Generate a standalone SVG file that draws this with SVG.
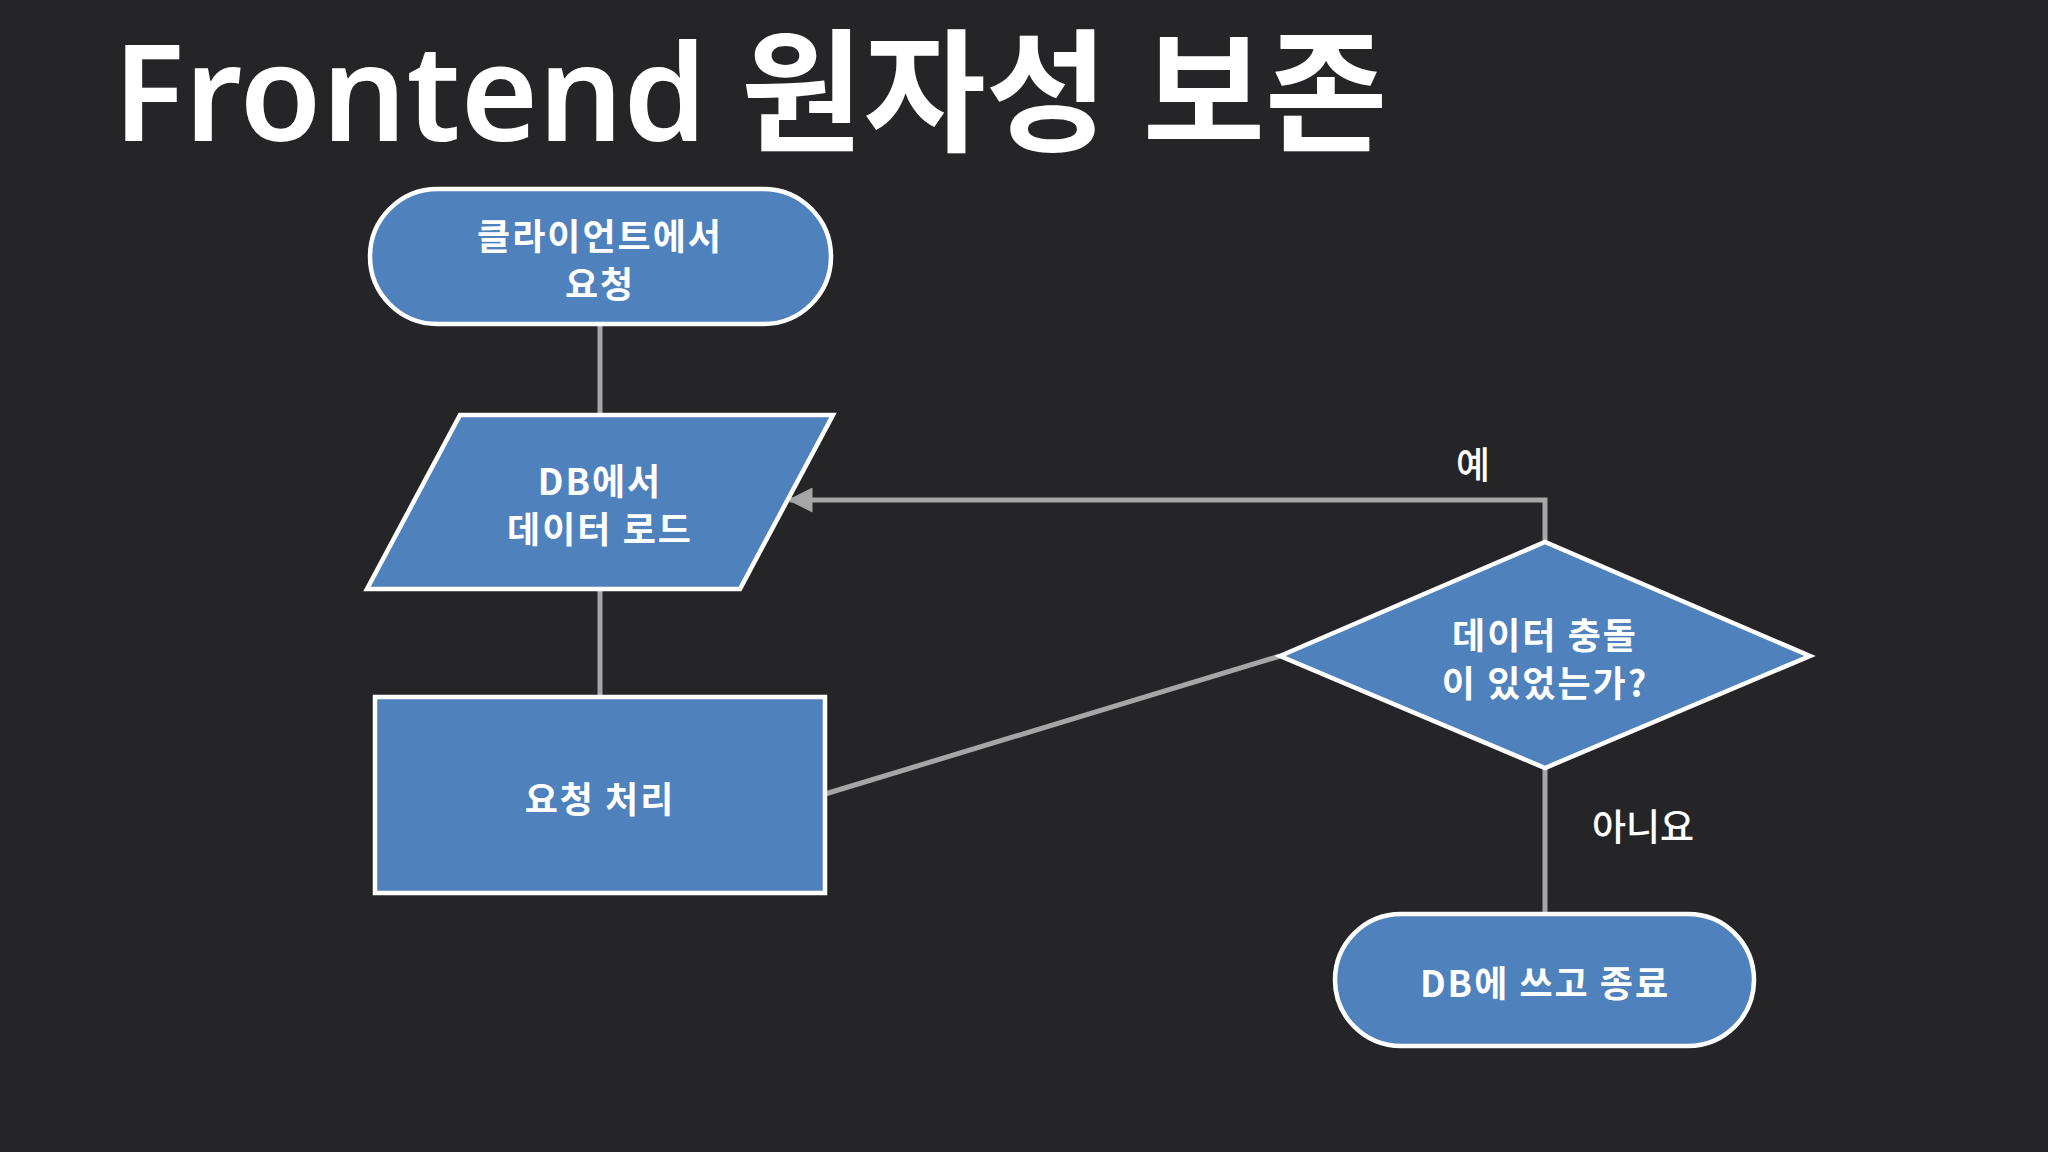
<svg xmlns="http://www.w3.org/2000/svg" width="2048" height="1152" viewBox="0 0 2048 1152">
<defs>
<marker id="ah" markerWidth="5" markerHeight="5" refX="4.5" refY="2.5" orient="auto" markerUnits="strokeWidth"><path d="M0,0 L5,2.5 L0,5 z" fill="#a6a6a6"/></marker>
<style>
.n{fill:#4f81bd;stroke:#fff;stroke-width:4.5}
.t{font-family:"Noto Sans CJK KR","Noto Sans",sans-serif;font-size:36px;font-weight:600;letter-spacing:2px;fill:#fff;text-anchor:middle;dominant-baseline:central}
.c{fill:none;stroke:#a6a6a6;stroke-width:5}
.l{font-family:"Noto Sans CJK KR","Noto Sans",sans-serif;font-size:37px;font-weight:500;fill:#fff;text-anchor:middle;dominant-baseline:central}
</style>
</defs>
<rect width="2048" height="1152" fill="#252527"/>
<text x="113" y="141" font-family="'Noto Sans','Noto Sans CJK KR',sans-serif" font-size="133" font-weight="600" fill="#fff">Frontend 원자성 보존</text>
<g id="connectors">
<path class="c" d="M600,324 V415"/>
<path class="c" d="M600,589 V697"/>
<path class="c" d="M825,794 L1280,656"/>
<path class="c" d="M1545,542 V500 H790" marker-end="url(#ah)"/>
<path class="c" d="M1545,768 V914"/>
<text class="l" x="1473" y="463">예</text>
<text class="l" x="1643" y="825">아니요</text>
</g>
<g id="start"><rect class="n" x="370" y="189" width="461" height="135" rx="67.5"/><text class="t" x="600" y="234">클라이언트에서</text><text class="t" x="600" y="282">요청</text></g>
<g id="load"><polygon class="n" points="460,415 833,415 740,589 367,589"/><text class="t" x="600" y="479">DB에서</text><text class="t" x="600" y="527">데이터 로드</text></g>
<g id="process"><rect class="n" x="375" y="697" width="450" height="196"/><text class="t" x="600" y="797">요청 처리</text></g>
<g id="decision"><polygon class="n" points="1280,656 1545,542 1810,656 1545,768"/><text class="t" x="1545" y="633">데이터 충돌</text><text class="t" x="1545" y="681">이 있었는가?</text></g>
<g id="end"><rect class="n" x="1335" y="914" width="419" height="132" rx="66"/><text class="t" x="1545" y="981">DB에 쓰고 종료</text></g>
</svg>
